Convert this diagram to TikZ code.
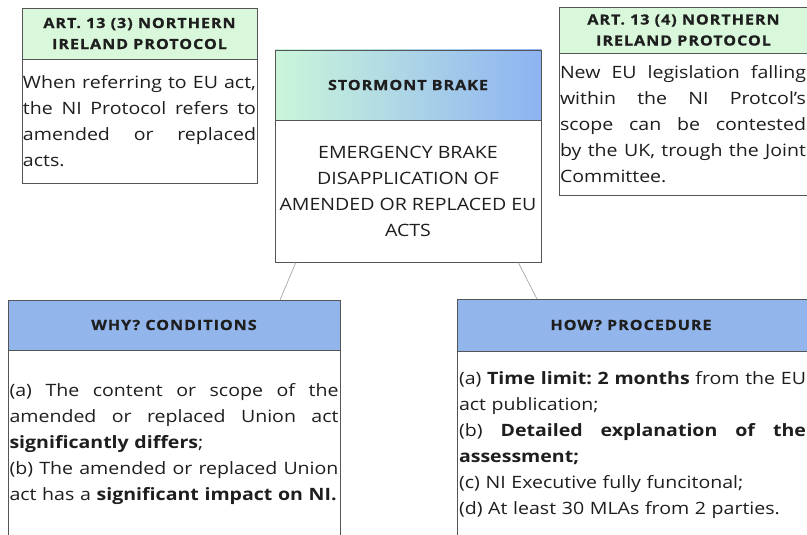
\documentclass[tikz,border=0pt]{standalone}
\usepackage{fontspec}
\setmainfont[FakeStretch=1.15]{Open Sans}
\newfontfamily\headfont[LetterSpace=7,FakeStretch=1.15,BoldFeatures={FakeBold=0.7}]{Open Sans}
\definecolor{hgreen}{HTML}{D9F7DA}
\definecolor{gradl}{HTML}{CBF6DA}
\definecolor{gradr}{HTML}{8DB3F2}
\definecolor{hblue}{HTML}{92B5EC}
\definecolor{bordergray}{HTML}{555555}
\definecolor{conngray}{HTML}{9A9A9A}
\definecolor{txtcol}{HTML}{1E1E1E}
\newcommand\jline[2]{{\spaceskip=0pt\xspaceskip=0pt\frenchspacing\makebox[#1pt][s]{#2}}}
\begin{document}
\begin{tikzpicture}[x=1pt,y=-1pt,
  box/.style={draw=bordergray, line width=0.8pt, inner sep=0pt, outer sep=0pt, anchor=north west},
  head/.style={font=\headfont\bfseries\fontsize{14}{21}\selectfont, text=txtcol, align=center},
  bodytxt/.style={font=\fontsize{17}{26}\selectfont\frenchspacing, text=txtcol, inner sep=0pt, align=left},
  conn/.style={draw=conngray, line width=0.6pt}]
\clip (0,0) rectangle (807,535);
\fill[white] (0,0) rectangle (807,535);

% top left
\node[box, fill=hgreen, minimum width=235pt, minimum height=51pt, head] (h1) at (22,8) {ART. 13 (3) NORTHERN\\IRELAND PROTOCOL};
\node[box, fill=white, minimum width=235pt, minimum height=124pt] (b1) at (22,59) {};
\node[bodytxt, text width=233pt] (t1) at (139.5,121) {\jline{233}{When referring to EU act,}\\\jline{233}{the NI Protocol refers to}\\\jline{233}{amended or replaced}\\acts.};

% top right
\node[box, fill=hgreen, minimum width=249pt, minimum height=46pt, head] (h2) at (559,7) {ART. 13 (4) NORTHERN\\IRELAND PROTOCOL};
\node[box, fill=white, minimum width=249pt, minimum height=142pt] (b2) at (559,53) {};
\node[bodytxt, text width=246pt] (t2) at (683,124.5) {\jline{246}{New EU legislation falling}\\\jline{246}{within the NI Protcol's}\\\jline{246}{scope can be contested}\\\jline{246}{by the UK, trough the Joint}\\Committee.};

% center
\node[box, shade, left color=gradl, right color=gradr, minimum width=266pt, minimum height=70pt, head] (h3) at (275,50) {STORMONT BRAKE};
\node[box, fill=white, minimum width=266pt, minimum height=142pt] (b3) at (275,120) {};
\node[bodytxt, align=center] (t3) at (408,191) {EMERGENCY BRAKE\\DISAPPLICATION OF\\AMENDED OR REPLACED EU\\ACTS};

% bottom left
\node[box, fill=hblue, minimum width=332pt, minimum height=50pt] (h4) at (8,300) {};
\node[head] (h4t) at (174,325) {WHY? CONDITIONS};
\node[box, fill=white, minimum width=332pt, minimum height=200pt] (b4) at (8,350) {};
\node[bodytxt, text width=329pt] (t4) at (174,444) {\jline{329}{(a) The content or scope of the}\\\jline{329}{amended or replaced Union act}\\\textbf{significantly differs};\\\jline{329}{(b) The amended or replaced Union}\\act has a \textbf{significant impact on NI.}};

% bottom right
\node[box, fill=hblue, minimum width=355pt, minimum height=52pt] (h5) at (457,299) {};
\node[head] (h5t) at (631,325) {HOW? PROCEDURE};
\node[box, fill=white, minimum width=355pt, minimum height=200pt] (b5) at (457,351) {};
\node[bodytxt, text width=347pt] (t5) at (632.5,445.5) {\jline{347}{(a) \textbf{Time limit: 2 months} from the EU}\\act publication;\\\jline{347}{(b) \textbf{Detailed explanation of the}}\\\textbf{assessment;}\\(c) NI Executive fully funcitonal;\\(d) At least 30 MLAs from 2 parties.};

% connectors
\draw[conn] ([xshift=21pt]b3.south west) -- ([xshift=-60pt]h4.north east);
\draw[conn] ([xshift=-23pt]b3.south east) -- ([xshift=80pt]h5.north west);
\end{tikzpicture}
\end{document}
